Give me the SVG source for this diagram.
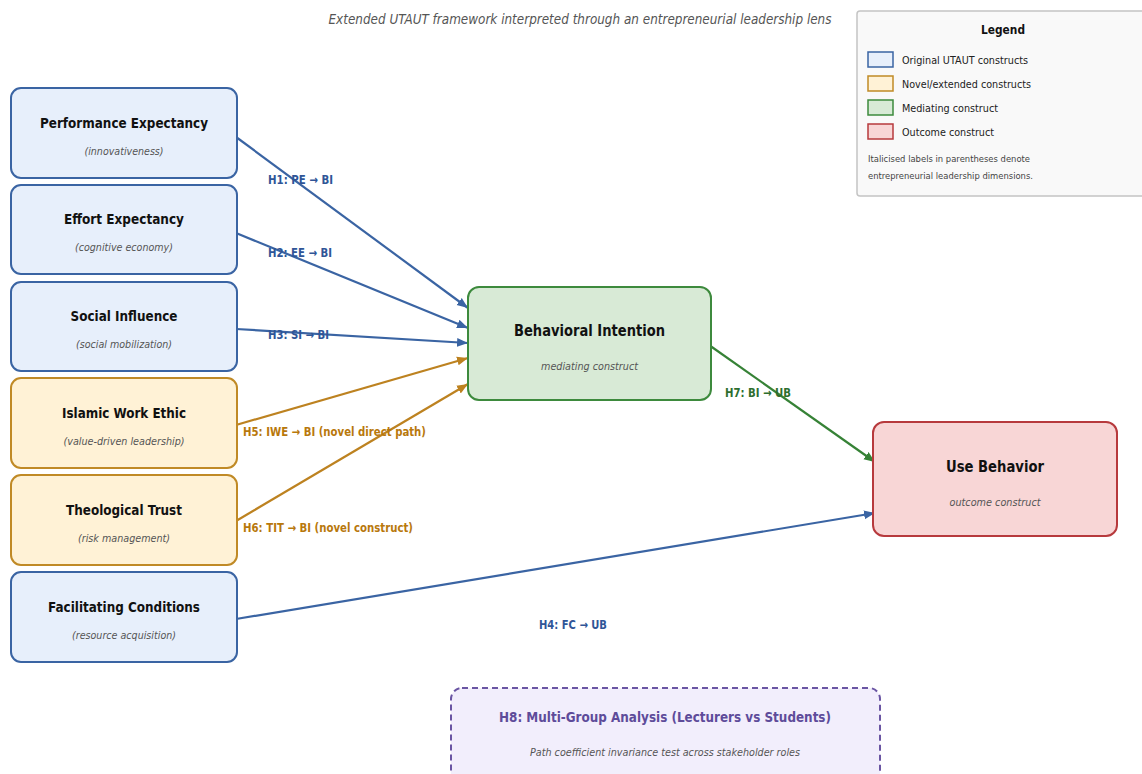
<svg xmlns="http://www.w3.org/2000/svg" width="1142" height="774" viewBox="0 0 1142 774">
<style>
text{font-family:"DejaVu Sans","Liberation Sans",sans-serif}
.t{font-size:14.5px;font-weight:bold;fill:#111;text-anchor:middle}
.s{font-size:11px;font-style:italic;fill:#555;text-anchor:middle}
.lb{font-size:12px;font-weight:bold}
.blue rect{fill:#e7effb;stroke:#3a64a3;stroke-width:2}
.orange rect{fill:#fff2d6;stroke:#c08a26;stroke-width:2}
.green rect{fill:#d8ead6;stroke:#3d8a3d;stroke-width:2}
.red rect{fill:#f8d6d6;stroke:#b73a3d;stroke-width:2}
.eb{stroke:#3a64a3;stroke-width:2.2;fill:none;marker-end:url(#ab)}
.eo{stroke:#bd8220;stroke-width:2.2;fill:none;marker-end:url(#ao)}
.eg{stroke:#368236;stroke-width:2.2;fill:none;marker-end:url(#ag)}
.lblue{fill:#2f5597}.lor{fill:#b8780c}.lgr{fill:#2e6e2e}
.leg{font-size:10.5px;fill:#222}
.note{font-size:9px;fill:#444}
</style>
<defs>
<marker id="ab" viewBox="0 0 10 10" refX="10" refY="5" markerWidth="5" markerHeight="5" orient="auto" markerUnits="strokeWidth"><path d="M0,1 L10,5 L0,9 z" fill="#3a64a3"/></marker>
<marker id="ao" viewBox="0 0 10 10" refX="10" refY="5" markerWidth="5" markerHeight="5" orient="auto" markerUnits="strokeWidth"><path d="M0,1 L10,5 L0,9 z" fill="#bd8220"/></marker>
<marker id="ag" viewBox="0 0 10 10" refX="10" refY="5" markerWidth="5" markerHeight="5" orient="auto" markerUnits="strokeWidth"><path d="M0,1 L10,5 L0,9 z" fill="#368236"/></marker>
</defs>
<rect width="1142" height="774" fill="#fff"/>
<text x="580" y="24" style="font-size:13.5px;font-style:italic;fill:#555" text-anchor="middle" textLength="503" lengthAdjust="spacingAndGlyphs">Extended UTAUT framework interpreted through an entrepreneurial leadership lens</text>

<g id="connectors">
<line class="eb" x1="236" y1="137" x2="468" y2="308"/>
<line class="eb" x1="236" y1="233" x2="468" y2="328"/>
<line class="eb" x1="236" y1="329" x2="468" y2="343"/>
<line class="eo" x1="236" y1="425" x2="468" y2="358"/>
<line class="eo" x1="236" y1="521" x2="468" y2="384"/>
<line class="eg" x1="709" y1="345" x2="875" y2="462"/>
<line class="eb" x1="236" y1="619" x2="875" y2="513"/>
<text class="lb lblue" x="268" y="184" textLength="65" lengthAdjust="spacingAndGlyphs">H1: PE → BI</text>
<text class="lb lblue" x="268" y="257" textLength="64" lengthAdjust="spacingAndGlyphs">H2: EE → BI</text>
<text class="lb lblue" x="268" y="339" textLength="61" lengthAdjust="spacingAndGlyphs">H3: SI → BI</text>
<text class="lb lor" x="243" y="436" textLength="183" lengthAdjust="spacingAndGlyphs">H5: IWE → BI (novel direct path)</text>
<text class="lb lor" x="243" y="532" textLength="170" lengthAdjust="spacingAndGlyphs">H6: TIT → BI (novel construct)</text>
<text class="lb lgr" x="725" y="397" textLength="66" lengthAdjust="spacingAndGlyphs">H7: BI → UB</text>
<text class="lb lblue" x="539" y="629" textLength="68" lengthAdjust="spacingAndGlyphs">H4: FC → UB</text>
</g>

<g id="pe" class="blue"><rect x="11" y="88" width="226" height="90" rx="10"/>
<text class="t" x="124" y="128" textLength="168" lengthAdjust="spacingAndGlyphs">Performance Expectancy</text>
<text class="s" x="124" y="155" textLength="79" lengthAdjust="spacingAndGlyphs">(innovativeness)</text></g>
<g id="ee" class="blue"><rect x="11" y="185" width="226" height="89" rx="10"/>
<text class="t" x="124" y="224" textLength="120" lengthAdjust="spacingAndGlyphs">Effort Expectancy</text>
<text class="s" x="124" y="251" textLength="98" lengthAdjust="spacingAndGlyphs">(cognitive economy)</text></g>
<g id="si" class="blue"><rect x="11" y="282" width="226" height="89" rx="10"/>
<text class="t" x="124" y="321" textLength="107" lengthAdjust="spacingAndGlyphs">Social Influence</text>
<text class="s" x="124" y="348" textLength="96" lengthAdjust="spacingAndGlyphs">(social mobilization)</text></g>
<g id="iwe" class="orange"><rect x="11" y="378" width="226" height="90" rx="10"/>
<text class="t" x="124" y="418" textLength="124" lengthAdjust="spacingAndGlyphs">Islamic Work Ethic</text>
<text class="s" x="124" y="445" textLength="121" lengthAdjust="spacingAndGlyphs">(value-driven leadership)</text></g>
<g id="tt" class="orange"><rect x="11" y="475" width="226" height="90" rx="10"/>
<text class="t" x="124" y="515" textLength="116" lengthAdjust="spacingAndGlyphs">Theological Trust</text>
<text class="s" x="124" y="542" textLength="92" lengthAdjust="spacingAndGlyphs">(risk management)</text></g>
<g id="fc" class="blue"><rect x="11" y="572" width="226" height="90" rx="10"/>
<text class="t" x="124" y="612" textLength="152" lengthAdjust="spacingAndGlyphs">Facilitating Conditions</text>
<text class="s" x="124" y="639" textLength="104" lengthAdjust="spacingAndGlyphs">(resource acquisition)</text></g>

<g id="bi" class="green"><rect x="468" y="287" width="243" height="113" rx="11"/>
<text class="t" x="589.5" y="336" style="font-size:15px" textLength="151" lengthAdjust="spacingAndGlyphs">Behavioral Intention</text>
<text class="s" x="589.5" y="370" textLength="97" lengthAdjust="spacingAndGlyphs">mediating construct</text></g>
<g id="ub" class="red"><rect x="873" y="422" width="244" height="114" rx="11"/>
<text class="t" x="995" y="472" style="font-size:15px" textLength="98" lengthAdjust="spacingAndGlyphs">Use Behavior</text>
<text class="s" x="995" y="506" textLength="91" lengthAdjust="spacingAndGlyphs">outcome construct</text></g>

<g id="h8"><rect x="451" y="688" width="429" height="100" rx="11" fill="#f2eefc" stroke="#6a55a3" stroke-width="2" stroke-dasharray="6,4"/>
<text x="665" y="722" style="font-size:14px;font-weight:bold;fill:#5e4b9a" text-anchor="middle" textLength="332" lengthAdjust="spacingAndGlyphs">H8: Multi-Group Analysis (Lecturers vs Students)</text>
<text class="s" x="665" y="756" textLength="270" lengthAdjust="spacingAndGlyphs">Path coefficient invariance test across stakeholder roles</text></g>

<g id="legend"><rect x="857" y="11" width="295" height="185" rx="3" fill="#f9f9f9" stroke="#c4c4c4" stroke-width="1.5"/>
<text x="1003" y="34" style="font-size:12px;font-weight:bold;fill:#111" text-anchor="middle" textLength="44" lengthAdjust="spacingAndGlyphs">Legend</text>
<rect x="868" y="52" width="25" height="15" fill="#e7effb" stroke="#3a64a3" stroke-width="1.5"/>
<text class="leg" x="902" y="64" textLength="126" lengthAdjust="spacingAndGlyphs">Original UTAUT constructs</text>
<rect x="868" y="76" width="25" height="15" fill="#fff2d6" stroke="#c08a26" stroke-width="1.5"/>
<text class="leg" x="902" y="88" textLength="129" lengthAdjust="spacingAndGlyphs">Novel/extended constructs</text>
<rect x="868" y="100" width="25" height="15" fill="#d8ead6" stroke="#3d8a3d" stroke-width="1.5"/>
<text class="leg" x="902" y="112" textLength="96" lengthAdjust="spacingAndGlyphs">Mediating construct</text>
<rect x="868" y="124" width="25" height="15" fill="#f8d6d6" stroke="#b73a3d" stroke-width="1.5"/>
<text class="leg" x="902" y="136" textLength="92" lengthAdjust="spacingAndGlyphs">Outcome construct</text>
<text class="note" x="868" y="162" textLength="162" lengthAdjust="spacingAndGlyphs">Italicised labels in parentheses denote</text>
<text class="note" x="868" y="179" textLength="165" lengthAdjust="spacingAndGlyphs">entrepreneurial leadership dimensions.</text></g>
</svg>
